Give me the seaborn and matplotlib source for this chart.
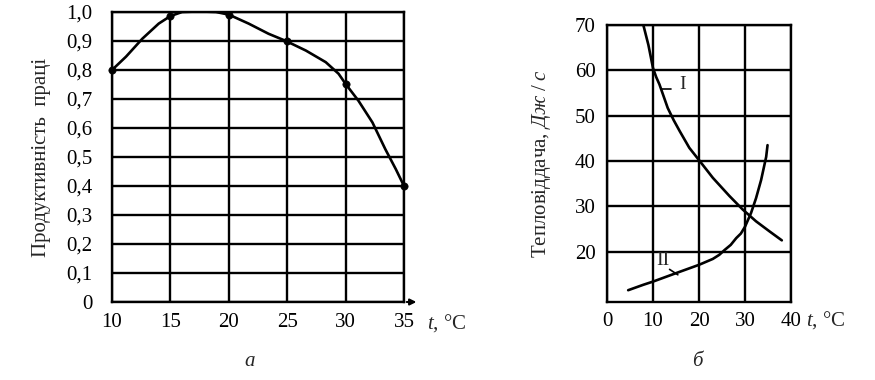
import numpy as np
import pandas as pd
import matplotlib
matplotlib.use("Agg")
import matplotlib.pyplot as plt
import seaborn as sns

# --- data ---
# (a) labour productivity vs air temperature
prod_t_pts = [10, 15, 20, 25, 30, 35]
prod_pts = [0.80, 0.986, 0.991, 0.90, 0.752, 0.40]
prod_t_curve = [10.0, 11.2, 12.6, 14.0, 15.0, 16.0, 17.5, 18.9, 20.0, 21.7, 23.4, 24.9, 26.6,
                28.3, 29.4, 30.0, 31.1, 32.3, 33.4, 34.3, 35.0]
prod_curve = [0.80, 0.846, 0.908, 0.96, 0.986, 1.0, 1.002, 1.0, 0.991, 0.96, 0.925, 0.90, 0.867,
              0.827, 0.787, 0.752, 0.694, 0.619, 0.527, 0.458, 0.40]

# (б) heat release, curve I and curve II
heat1_t = [7.9, 8.5, 9.0, 10.0, 10.7, 11.4, 12.3, 13.2, 14.5, 15.8, 17.9, 20.0, 23.0, 26.6,
           29.5, 32.4, 35.3, 38.0]
heat1 = [70.0, 67.6, 65.6, 60.5, 58.5, 56.9, 54.3, 51.7, 49.0, 46.6, 42.9, 40.2, 36.3, 32.3,
         29.3, 26.7, 24.5, 22.5]
heat2_t = [4.6, 7.9, 10.0, 15.1, 20.0, 23.0, 24.4, 25.6, 26.9, 28.1, 29.1, 30.0, 31.3, 32.4,
           33.5, 34.6, 34.9]
heat2 = [11.5, 12.7, 13.4, 15.3, 17.1, 18.4, 19.3, 20.4, 21.5, 23.0, 24.0, 25.5, 28.5, 31.8,
         35.8, 40.9, 43.5]

xticks_a = [10, 15, 20, 25, 30, 35]
yticks_a = [0, 0.1, 0.2, 0.3, 0.4, 0.5, 0.6, 0.7, 0.8, 0.9, 1.0]
xticks_b = [0, 10, 20, 30, 40]
yticks_b = [20, 30, 40, 50, 60, 70]

sns.set_theme(style="white")
plt.rcParams["font.family"] = ["Liberation Serif", "DejaVu Serif"]
plt.rcParams["mathtext.fontset"] = "custom"
plt.rcParams["mathtext.rm"] = "Liberation Serif"
plt.rcParams["mathtext.it"] = "Liberation Serif:italic"
plt.rcParams["lines.solid_joinstyle"] = "round"

fig = plt.figure(figsize=(8.75, 3.8), dpi=100)
ax1 = fig.add_axes([112 / 875, 1 - 302 / 380, 292 / 875, 290 / 380])
ax2 = fig.add_axes([607 / 875, 1 - 302 / 380, 184 / 875, 277 / 380])

lw_grid = 1.7
lw_curve = 1.9

# --- chart a ---
df_a = pd.DataFrame({"t": prod_t_curve, "p": prod_curve})
sns.lineplot(data=df_a, x="t", y="p", ax=ax1, color="black", lw=lw_curve, sort=False)
sns.scatterplot(x=prod_t_pts, y=prod_pts, ax=ax1, color="black", s=28,
                edgecolor="black", zorder=5, clip_on=False)
ax1.set_xlim(10, 35)
ax1.set_ylim(0, 1.0)
ax1.set_xticks(xticks_a)
ax1.set_yticks(yticks_a)
ax1.set_yticklabels([("0" if v == 0 else f"{v:.1f}".replace(".", ",")) for v in yticks_a])
ax1.set_xlabel("")
ax1.set_ylabel("Продуктивність  праці", fontsize=15, labelpad=11)
ax1.grid(True, color="black", lw=lw_grid)
for s in ax1.spines.values():
    s.set_color("black")
    s.set_linewidth(lw_grid)
ax1.tick_params(axis="both", labelsize=15, colors="black", length=3, width=1.2, direction="out")
ax1.tick_params(axis="x", pad=5)
ax1.tick_params(axis="y", pad=11)
ax1.annotate("", xy=(36.3, 0), xytext=(35, 0), xycoords="data",
             arrowprops=dict(arrowstyle="-|>", color="black", lw=1.5, mutation_scale=9),
             annotation_clip=False)
ax1.text(37.0, -0.035, r"$\mathit{t}$, °C", fontsize=15, ha="left", va="top")

# --- chart б ---
df_b1 = pd.DataFrame({"t": heat1_t, "q": heat1})
df_b2 = pd.DataFrame({"t": heat2_t, "q": heat2})
sns.lineplot(data=df_b1, x="t", y="q", ax=ax2, color="black", lw=lw_curve, sort=False)
sns.lineplot(data=df_b2, x="t", y="q", ax=ax2, color="black", lw=lw_curve, sort=False)
ax2.set_xlim(0, 40)
ax2.set_ylim(8.9, 70)
ax2.set_xticks(xticks_b)
ax2.set_yticks(yticks_b)
ax2.set_xlabel("")
ax2.set_ylabel(r"Тепловіддача, $\mathit{Дж\;/\;с}$", fontsize=15, labelpad=16)
ax2.grid(True, color="black", lw=lw_grid)
for s in ax2.spines.values():
    s.set_color("black")
    s.set_linewidth(lw_grid)
ax2.tick_params(axis="both", labelsize=15, colors="black", length=0)
ax2.tick_params(axis="x", pad=7)
ax2.tick_params(axis="y", pad=8)
ax2.plot([11.8, 14.0], [55.9, 55.9], color="black", lw=1.2)
ax2.text(16.5, 56.8, "I", fontsize=14, ha="center", va="center")
ax2.text(12.2, 18.0, "II", fontsize=14, ha="center", va="center")
ax2.plot([13.6, 15.4], [16.1, 14.9], color="black", lw=1.2)
ax2.text(43.3, 7.3, r"$\mathit{t}$, °C", fontsize=15, ha="left", va="top")

# panel letters
fig.text(250 / 875, 1 - 362 / 380, "а", fontsize=15, style="italic", ha="center", va="center")
fig.text(697 / 875, 1 - 362 / 380, "б", fontsize=15, style="italic", ha="center", va="center")

fig.savefig("out.png", dpi=100)
